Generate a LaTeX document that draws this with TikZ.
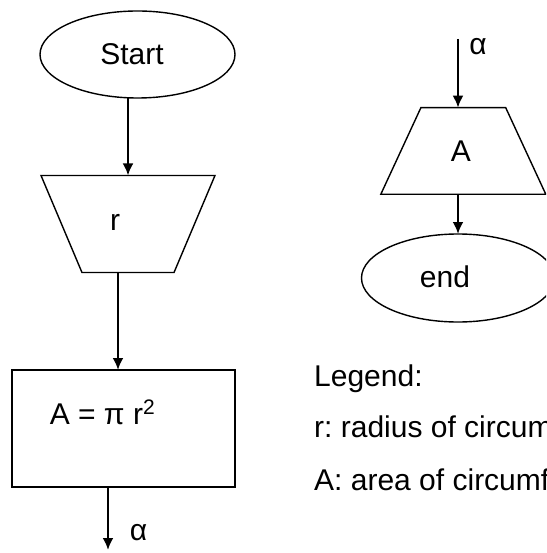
\documentclass[tikz,border=0pt]{standalone}
\usepackage{fontspec}
\setmainfont{Liberation Sans}
\usetikzlibrary{shapes.geometric,arrows.meta}
\tikzset{box/.style={draw, line width=1.4pt, outer sep=0pt, inner sep=0pt},
  oval/.style={box, ellipse},
  io/.style={box, trapezium, trapezium stretches=true, inner sep=2pt},
  flow/.style={line width=2.4pt, -{Latex[length=12pt,width=11pt]}},
  txt/.style={inner sep=0pt}}
\frenchspacing

\begin{document}
\begin{tikzpicture}[x=1pt, y=-1pt, font=\fontsize{30}{36}\selectfont]
  \useasboundingbox (0,0) rectangle (546,553);
  \clip (0,0) rectangle (546,553);
  % main column: read r, compute A
  \node[oval, minimum width=195pt, minimum height=87pt, label={[xshift=-5.5pt]center:Start}] (start) at (137.5,54.5) {};
  \node[io, shape border rotate=180, trapezium angle=66, minimum width=174pt, minimum height=97pt,
        label={[xshift=-13pt,yshift=2pt]center:r}] (readr) at (128,224) {};
  \node[box, minimum width=223pt, minimum height=117pt] (area) at (123.5,428.5) {};
  \node[txt, anchor=base] (formula) at (102.5,424) {A = π r\textsuperscript{2}};
  \coordinate (alphaOut) at (108,550);
  \node[txt, anchor=base] (alphaOutLbl) at (138.5,540) {α};
  \draw[flow] (start.south -| readr.center) -- (readr.north);
  \draw[flow] ([xshift=-10pt]readr.south) -- ([xshift=-10pt]readr.south |- area.north);
  \draw[flow] (area.south -| alphaOut) -- (alphaOut);
  % connector alpha: show A, end
  \coordinate (alphaIn) at (458,39);
  \node[txt, anchor=base] (alphaInLbl) at (478,55) {α};
  \node[io, trapezium angle=64.7, minimum width=165pt, minimum height=86.6pt,
        label={[xshift=-2.5pt]center:A}] (showA) at (463.3,151) {};
  \node[oval, minimum width=193pt, minimum height=88pt, label={[xshift=-13pt,yshift=1pt]center:end}] (stop) at (458,278) {};
  \draw[flow] (alphaIn) -- (alphaIn |- showA.north);
  \draw[flow] (alphaIn |- showA.south) -- (stop.north);
  % legend
  \node[txt, anchor=base west] (legend) at (314,386) {Legend:};
  \node[txt, anchor=base west] (legendR) at (314,437) {r: radius of circumference};
  \node[txt, anchor=base west] (legendA) at (314,490) {A: area of circumference};
\end{tikzpicture}
\end{document}
